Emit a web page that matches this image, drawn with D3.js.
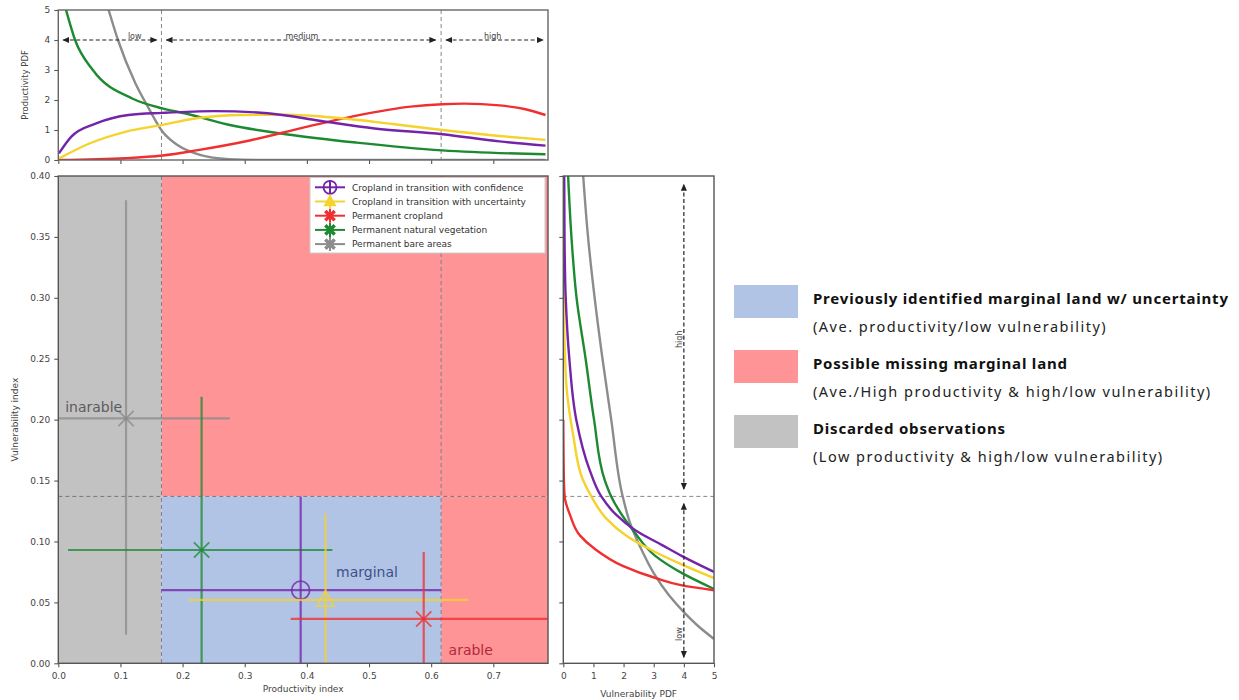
<!DOCTYPE html>
<html>
<head>
<meta charset="utf-8">
<script src="https://cdn.jsdelivr.net/npm/d3@7/dist/d3.min.js"></script>
<style>
  body { margin: 0; background: #fff; }
  svg text { font-family: "DejaVu Sans", sans-serif; }
</style>
</head>
<body>
<svg id="chart" width="1239" height="700"></svg>
<script>
// ---- series (same order everywhere) ----
const seriesNames = ['Cropland in transition with confidence', 'Cropland in transition with uncertainty',
  'Permanent cropland', 'Permanent natural vegetation', 'Permanent bare areas'];
const seriesColors = ['#7424a8', '#f5d22c', '#f03030', '#1d8a32', '#8c8c8c'];
const seriesMarkers = ['circle', 'triangle', 'x', 'x', 'x'];

// ---- productivity PDF curves (top panel), [productivity, pdf] ----
const prodConf = [[0.001, 0.22], [0.021, 0.78], [0.061, 1.22], [0.113, 1.5], [0.1675, 1.57], [0.25, 1.63],
  [0.337, 1.56], [0.423, 1.3], [0.509, 1.05], [0.618, 0.86], [0.71, 0.62], [0.784, 0.48]];
const prodUnc = [[0.001, 0.05], [0.05, 0.55], [0.108, 0.94], [0.1675, 1.17], [0.222, 1.39], [0.297, 1.5],
  [0.366, 1.51], [0.452, 1.4], [0.538, 1.2], [0.618, 1.0], [0.71, 0.8], [0.784, 0.67]];
const prodCrop = [[0.0, 0.0], [0.108, 0.06], [0.1675, 0.15], [0.222, 0.32], [0.308, 0.65], [0.394, 1.08],
  [0.48, 1.48], [0.567, 1.78], [0.618, 1.86], [0.653, 1.88], [0.71, 1.82], [0.75, 1.7], [0.784, 1.5]];
const prodVeg = [[0.0125, 5.0], [0.027, 4.0], [0.0556, 3.0], [0.119, 2.05], [0.1675, 1.72], [0.205, 1.55],
  [0.28, 1.15], [0.366, 0.86], [0.48, 0.58], [0.618, 0.32], [0.784, 0.19]];
const prodBare = [[0.081, 5.0], [0.096, 4.0], [0.124, 2.56], [0.144, 1.78], [0.1675, 0.95], [0.193, 0.48],
  [0.228, 0.17], [0.274, 0.03], [0.33, 0.0], [0.784, 0.0]];
const prodCurves = [prodConf, prodUnc, prodCrop, prodVeg, prodBare];

// ---- vulnerability PDF curves (right panel), [vulnerability, pdf] ----
const vulConf = [[0.075, 5.0], [0.088, 3.94], [0.097, 3.28], [0.109, 2.4], [0.122, 1.75], [0.137, 1.26],
  [0.159, 0.87], [0.2, 0.43], [0.25, 0.2], [0.3, 0.08], [0.35, 0.04], [0.4, 0.03]];
const vulUnc = [[0.07, 5.0], [0.081, 3.94], [0.094, 2.84], [0.105, 2.08], [0.119, 1.42], [0.137, 0.93],
  [0.15, 0.66], [0.187, 0.33], [0.229, 0.1], [0.25, 0.06], [0.3, 0.02], [0.4, 0.01]];
const vulCrop = [[0.06, 5.0], [0.064, 3.94], [0.07, 3.06], [0.08, 1.97], [0.094, 1.04], [0.105, 0.55],
  [0.122, 0.22], [0.136, 0.05], [0.15, 0.02], [0.2, 0.0]];
const vulVeg = [[0.061, 5.0], [0.074, 3.94], [0.088, 3.06], [0.108, 2.35], [0.137, 1.59], [0.15, 1.38],
  [0.2, 1.02], [0.25, 0.74], [0.3, 0.44], [0.35, 0.27], [0.4, 0.16]];
const vulBare = [[0.02, 5.0], [0.030, 4.5], [0.042, 4.0], [0.056, 3.5], [0.074, 3.0], [0.093, 2.6],
  [0.117, 2.19], [0.137, 1.97], [0.2, 1.59], [0.25, 1.3], [0.3, 1.04], [0.35, 0.82], [0.4, 0.66]];
const vulCurves = [vulConf, vulUnc, vulCrop, vulVeg, vulBare];

// ---- error bars (main panel) ----
const centerProd = [0.390, 0.430, 0.588, 0.2306, 0.109];
const centerVul = [0.060, 0.052, 0.0364, 0.093, 0.201];
const prodLow = [0.166, 0.21, 0.374, 0.0156, 0.0];
const prodHigh = [0.616, 0.659, 0.788, 0.441, 0.276];
const vulLow = [0.0, 0.0, 0.0, 0.0, 0.0234];
const vulHigh = [0.137, 0.123, 0.0914, 0.2187, 0.38];

// ---- class thresholds ----
const prodCuts = [0.166, 0.616];
const vulCut = 0.137;
const prodMax = 0.788;
const vulMax = 0.4;

// ---- tick values ----
const mainXTicks = [0, 0.1, 0.2, 0.3, 0.4, 0.5, 0.6, 0.7];
const mainYTicks = [0, 0.05, 0.1, 0.15, 0.2, 0.25, 0.3, 0.35, 0.4];
const pdfTicks = [0, 1, 2, 3, 4, 5];

// ---- right-side legend ----
const zoneNames = ['Previously identified marginal land w/ uncertainty', 'Possible missing marginal land', 'Discarded observations'];
const zoneNotes = ['(Ave. productivity/low vulnerability)', '(Ave./High productivity & high/low vulnerability)',
  '(Low productivity & high/low vulnerability)'];
const zoneColors = ['#b2c4e6', '#fe9496', '#c3c2c3'];

const svg = d3.select('#chart');

// scales
const xProd = d3.scaleLinear().domain([0, prodMax]).range([58.3, 548]);
const yTop = d3.scaleLinear().domain([0, 5]).range([160, 10]);
const yVul = d3.scaleLinear().domain([0, vulMax]).range([663.3, 176]);
const xPdf = d3.scaleLinear().domain([0, 5]).range([563.3, 714]);

const defs = svg.append('defs');
defs.append('clipPath').attr('id', 'clipTop').append('rect')
  .attr('x', xProd(0)).attr('y', yTop(5)).attr('width', xProd(prodMax) - xProd(0)).attr('height', yTop(0) - yTop(5));
defs.append('clipPath').attr('id', 'clipMain').append('rect')
  .attr('x', xProd(0)).attr('y', yVul(vulMax)).attr('width', xProd(prodMax) - xProd(0)).attr('height', yVul(0) - yVul(vulMax));
defs.append('clipPath').attr('id', 'clipRight').append('rect')
  .attr('x', xPdf(0)).attr('y', yVul(vulMax)).attr('width', xPdf(5) - xPdf(0)).attr('height', yVul(0) - yVul(vulMax));
defs.append('marker').attr('id', 'arrow')
  .attr('viewBox', '0 0 8 8').attr('refX', 7).attr('refY', 4)
  .attr('markerWidth', 7).attr('markerHeight', 7).attr('markerUnits', 'userSpaceOnUse')
  .attr('orient', 'auto-start-reverse')
  .append('path').attr('d', 'M0,0.5 L8,4 L0,7.5 z').attr('fill', '#222');

function styleAxis(g, showLabels) {
  g.selectAll('.domain').remove();
  g.selectAll('.tick line').attr('stroke', '#555').attr('stroke-width', 1.1);
  g.selectAll('.tick text').attr('fill', '#444').style('font-size', '9px');
  if (!showLabels) g.selectAll('.tick text').remove();
}

/* ################ TOP PANEL ################ */
const topPanel = svg.append('g');
topPanel.append('g').attr('transform', `translate(${xProd(0)},0)`)
  .call(d3.axisLeft(yTop).tickValues(pdfTicks).tickSize(4).tickPadding(4).tickFormat(d3.format('d')))
  .call((g) => styleAxis(g, true));
topPanel.append('g').attr('transform', `translate(0,${yTop(0)})`)
  .call(d3.axisBottom(xProd).tickValues(mainXTicks).tickSize(4))
  .call((g) => styleAxis(g, false));

prodCuts.forEach((c) => {
  topPanel.append('line').attr('x1', xProd(c)).attr('x2', xProd(c)).attr('y1', yTop(5)).attr('y2', yTop(0))
    .attr('stroke', '#888').attr('stroke-width', 1).attr('stroke-dasharray', '4,3');
});

const lineTop = d3.line().x((d) => xProd(d[0])).y((d) => yTop(d[1])).curve(d3.curveMonotoneX);
topPanel.append('g').attr('clip-path', 'url(#clipTop)').selectAll('path')
  .data(prodCurves.slice().reverse())
  .join('path')
  .attr('d', lineTop)
  .attr('fill', 'none')
  .attr('stroke', (d, i) => seriesColors[4 - i])
  .attr('stroke-width', 2.4);

// class arrows
const prodClasses = [['low', 0.008, 0.158, 0.123], ['medium', 0.174, 0.607, 0.392], ['high', 0.624, 0.78, 0.699]];
prodClasses.forEach((c) => {
  topPanel.append('line').attr('x1', xProd(c[1])).attr('x2', xProd(c[2])).attr('y1', yTop(4)).attr('y2', yTop(4))
    .attr('stroke', '#222').attr('stroke-width', 1.2).attr('stroke-dasharray', '4,2.5')
    .attr('marker-start', 'url(#arrow)').attr('marker-end', 'url(#arrow)');
  topPanel.append('text').attr('x', xProd(c[3])).attr('y', yTop(4) - 1.5).text(c[0])
    .attr('text-anchor', 'middle').style('font-size', '8px').attr('fill', '#444');
});

topPanel.append('rect').attr('x', xProd(0)).attr('y', yTop(5)).attr('width', xProd(prodMax) - xProd(0)).attr('height', yTop(0) - yTop(5))
  .attr('fill', 'none').attr('stroke', '#666').attr('stroke-width', 1.4);
topPanel.append('text').attr('transform', `translate(28,${(yTop(0) + yTop(5)) / 2}) rotate(-90)`)
  .text('Productivity PDF').attr('text-anchor', 'middle').style('font-size', '8.5px').attr('fill', '#444');

/* ################ MAIN PANEL ################ */
const mainPanel = svg.append('g');
const zones = [
  { x0: 0, x1: prodCuts[0], y0: 0, y1: vulMax, c: zoneColors[2] },
  { x0: prodCuts[0], x1: prodMax, y0: vulCut, y1: vulMax, c: zoneColors[1] },
  { x0: prodCuts[1], x1: prodMax, y0: 0, y1: vulCut, c: zoneColors[1] },
  { x0: prodCuts[0], x1: prodCuts[1], y0: 0, y1: vulCut, c: zoneColors[0] },
];
mainPanel.append('g').selectAll('rect').data(zones).join('rect')
  .attr('x', (d) => xProd(d.x0)).attr('y', (d) => yVul(d.y1))
  .attr('width', (d) => xProd(d.x1) - xProd(d.x0)).attr('height', (d) => yVul(d.y0) - yVul(d.y1))
  .attr('fill', (d) => d.c);

prodCuts.forEach((c) => {
  mainPanel.append('line').attr('x1', xProd(c)).attr('x2', xProd(c)).attr('y1', yVul(vulMax)).attr('y2', yVul(0))
    .attr('stroke', '#7d7d9a').attr('stroke-width', 1).attr('stroke-dasharray', '4,3');
});
mainPanel.append('line').attr('x1', xProd(0)).attr('x2', xProd(prodMax)).attr('y1', yVul(vulCut)).attr('y2', yVul(vulCut))
  .attr('stroke', '#777').attr('stroke-width', 1).attr('stroke-dasharray', '4,3');

mainPanel.append('g').attr('transform', `translate(${xProd(0)},0)`)
  .call(d3.axisLeft(yVul).tickValues(mainYTicks).tickSize(4).tickPadding(4).tickFormat(d3.format('.2f')))
  .call((g) => styleAxis(g, true));
mainPanel.append('g').attr('transform', `translate(0,${yVul(0)})`)
  .call(d3.axisBottom(xProd).tickValues(mainXTicks).tickSize(4).tickPadding(5).tickFormat(d3.format('.1f')))
  .call((g) => styleAxis(g, true));

// error bars + markers
const bars = mainPanel.append('g').attr('clip-path', 'url(#clipMain)');
function drawMarker(g, type, cx, cy, color, size, filled) {
  if (type === 'circle') {
    g.append('circle').attr('cx', cx).attr('cy', cy).attr('r', size)
      .attr('fill', filled ? color : 'none').attr('stroke', color).attr('stroke-width', 1.8);
  } else if (type === 'triangle') {
    const s = size;
    g.append('path').attr('d', `M${cx},${cy - s} L${cx + s * 0.95},${cy + s * 0.7} L${cx - s * 0.95},${cy + s * 0.7} Z`)
      .attr('fill', filled ? color : 'none').attr('stroke', color).attr('stroke-width', 1.6);
  } else {
    const s = size * 0.85;
    g.append('path').attr('d', `M${cx - s},${cy - s} L${cx + s},${cy + s} M${cx - s},${cy + s} L${cx + s},${cy - s}`)
      .attr('stroke', color).attr('stroke-width', filled ? 3.5 : 1.8).attr('fill', 'none');
  }
}
const order = [4, 3, 0, 1, 2];
order.forEach((i) => {
  const g = bars.append('g').attr('stroke-opacity', 0.78);
  g.append('line').attr('x1', xProd(prodLow[i])).attr('x2', xProd(prodHigh[i]))
    .attr('y1', yVul(centerVul[i])).attr('y2', yVul(centerVul[i]))
    .attr('stroke', seriesColors[i]).attr('stroke-width', 2.2);
  g.append('line').attr('x1', xProd(centerProd[i])).attr('x2', xProd(centerProd[i]))
    .attr('y1', yVul(vulLow[i])).attr('y2', yVul(vulHigh[i]))
    .attr('stroke', seriesColors[i]).attr('stroke-width', 2.2);
  drawMarker(g, seriesMarkers[i], xProd(centerProd[i]), yVul(centerVul[i]), seriesColors[i], 9, false);
});

// zone labels
const zoneLabels = [['inarable', 0.011, 0.206, '#5c5c5c'], ['marginal', 0.447, 0.0711, '#3d5189'], ['arable', 0.628, 0.0068, '#b02a3c']];
mainPanel.selectAll('text.zl').data(zoneLabels).join('text').attr('class', 'zl')
  .attr('x', (d) => xProd(d[1])).attr('y', (d) => yVul(d[2])).text((d) => d[0])
  .style('font-size', '14px').attr('fill', (d) => d[3]);

// legend box
const leg = mainPanel.append('g');
leg.append('rect').attr('x', 310).attr('y', 177.5).attr('width', 235).attr('height', 75.5)
  .attr('fill', '#fff').attr('stroke', '#ccc').attr('stroke-width', 1);
seriesNames.forEach((name, i) => {
  const cy = 187.3 + i * 14.2;
  const lg = leg.append('g');
  lg.append('line').attr('x1', 315).attr('x2', 345).attr('y1', cy).attr('y2', cy).attr('stroke', seriesColors[i]).attr('stroke-width', 2);
  lg.append('line').attr('x1', 330).attr('x2', 330).attr('y1', cy - 7).attr('y2', cy + 7).attr('stroke', seriesColors[i]).attr('stroke-width', 2);
  drawMarker(lg, seriesMarkers[i], 330, cy, seriesColors[i], seriesMarkers[i] === 'circle' ? 6.5 : 5.5, i > 0);
  leg.append('text').attr('x', 352).attr('y', cy + 3.2).text(name)
    .style('font-size', '9px').attr('fill', '#333');
});

mainPanel.append('rect').attr('x', xProd(0)).attr('y', yVul(vulMax)).attr('width', xProd(prodMax) - xProd(0)).attr('height', yVul(0) - yVul(vulMax))
  .attr('fill', 'none').attr('stroke', '#555').attr('stroke-width', 1.4);
mainPanel.append('text').attr('x', (xProd(0) + xProd(prodMax)) / 2).attr('y', 692).text('Productivity index')
  .attr('text-anchor', 'middle').style('font-size', '9px').attr('fill', '#444');
mainPanel.append('text').attr('transform', `translate(18,${(yVul(0) + yVul(vulMax)) / 2}) rotate(-90)`)
  .text('Vulnerability index').attr('text-anchor', 'middle').style('font-size', '9px').attr('fill', '#444');

/* ################ RIGHT PANEL ################ */
const rightPanel = svg.append('g');
rightPanel.append('g').attr('transform', `translate(${xPdf(0)},0)`)
  .call(d3.axisLeft(yVul).tickValues(mainYTicks).tickSize(4))
  .call((g) => styleAxis(g, false));
rightPanel.append('g').attr('transform', `translate(0,${yVul(0)})`)
  .call(d3.axisBottom(xPdf).tickValues(pdfTicks).tickSize(4).tickPadding(5).tickFormat(d3.format('d')))
  .call((g) => styleAxis(g, true));

rightPanel.append('line').attr('x1', xPdf(0)).attr('x2', xPdf(5)).attr('y1', yVul(vulCut)).attr('y2', yVul(vulCut))
  .attr('stroke', '#888').attr('stroke-width', 1).attr('stroke-dasharray', '4,3');

const lineRight = d3.line().x((d) => xPdf(d[1])).y((d) => yVul(d[0])).curve(d3.curveMonotoneY);
rightPanel.append('g').attr('clip-path', 'url(#clipRight)').selectAll('path')
  .data(vulCurves.slice().reverse())
  .join('path')
  .attr('d', lineRight)
  .attr('fill', 'none')
  .attr('stroke', (d, i) => seriesColors[4 - i])
  .attr('stroke-width', 2.4);

const vulClasses = [['high', 0.143, 0.393, 0.266], ['low', 0.005, 0.131, 0.024]];
vulClasses.forEach((c) => {
  rightPanel.append('line').attr('x1', xPdf(4)).attr('x2', xPdf(4)).attr('y1', yVul(c[1])).attr('y2', yVul(c[2]))
    .attr('stroke', '#222').attr('stroke-width', 1.2).attr('stroke-dasharray', '4,2.5')
    .attr('marker-start', 'url(#arrow)').attr('marker-end', 'url(#arrow)');
  rightPanel.append('text').attr('transform', `translate(${xPdf(4) - 1.5},${yVul(c[3])}) rotate(-90)`).text(c[0])
    .attr('text-anchor', 'middle').style('font-size', '8px').attr('fill', '#444');
});

rightPanel.append('rect').attr('x', xPdf(0)).attr('y', yVul(vulMax)).attr('width', xPdf(5) - xPdf(0)).attr('height', yVul(0) - yVul(vulMax))
  .attr('fill', 'none').attr('stroke', '#555').attr('stroke-width', 1.4);
rightPanel.append('text').attr('x', (xPdf(0) + xPdf(5)) / 2).attr('y', 697).text('Vulnerability PDF')
  .attr('text-anchor', 'middle').style('font-size', '9px').attr('fill', '#444');

/* ################ ZONE LEGEND ################ */
const zl = svg.append('g');
zoneNames.forEach((name, i) => {
  const y0 = 285 + i * 65;
  zl.append('rect').attr('x', 734).attr('y', y0).attr('width', 64).attr('height', 33).attr('fill', zoneColors[i]);
  zl.append('text').attr('x', 813).attr('y', y0 + 18.5).text(name)
    .style('font-family', '"Noto Sans", sans-serif').style('font-size', '15px').style('font-weight', 'bold')
    .style('letter-spacing', '0.8px').attr('fill', '#111');
  zl.append('text').attr('x', 813).attr('y', y0 + 47).text(zoneNotes[i])
    .style('font-family', '"Noto Sans", sans-serif').style('font-size', '14.5px')
    .style('letter-spacing', '1.5px').attr('fill', '#222');
});
</script>
</body>
</html>
